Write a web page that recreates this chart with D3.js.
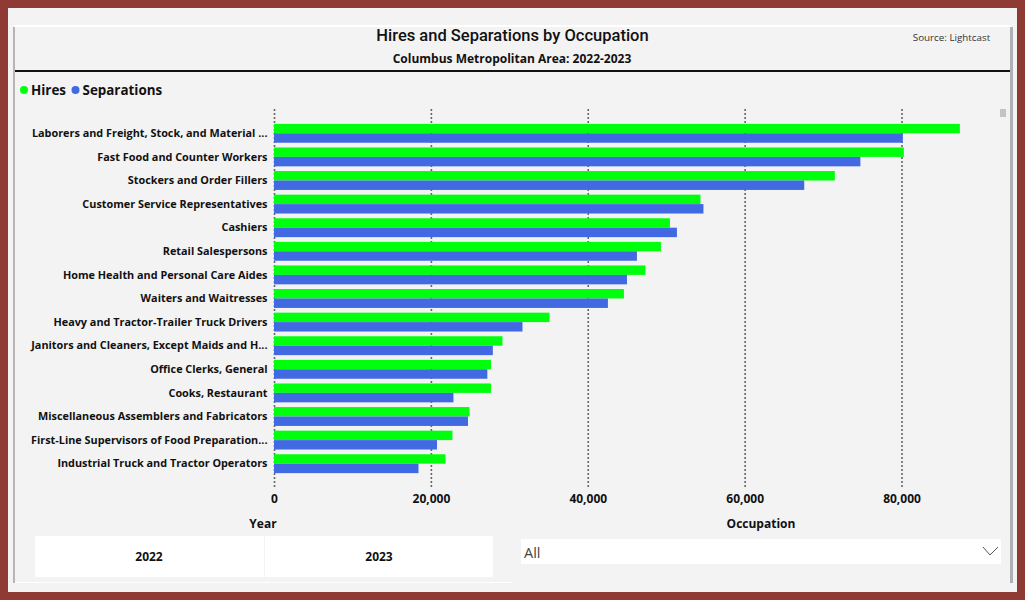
<!DOCTYPE html>
<html>
<head>
<meta charset="utf-8">
<script src="https://d3js.org/d3.v7.min.js"></script>
<style>
html, body { margin: 0; padding: 0; background: #8f3a32; overflow: hidden; }
svg { display: block; }
text { fill: #111; }
.cat { font: 700 10.85px "Open Sans", sans-serif; }
.tick-label { font: 700 12px "Open Sans", sans-serif; }
.din { font-family: Roboto, sans-serif; }
</style>
</head>
<body>
<u></u>
<script>
var occupations = [
  "Laborers and Freight, Stock, and Material ...",
  "Fast Food and Counter Workers",
  "Stockers and Order Fillers",
  "Customer Service Representatives",
  "Cashiers",
  "Retail Salespersons",
  "Home Health and Personal Care Aides",
  "Waiters and Waitresses",
  "Heavy and Tractor-Trailer Truck Drivers",
  "Janitors and Cleaners, Except Maids and H...",
  "Office Clerks, General",
  "Cooks, Restaurant",
  "Miscellaneous Assemblers and Fabricators",
  "First-Line Supervisors of Food Preparation...",
  "Industrial Truck and Tractor Operators"
];
var hires = [87440, 80300, 71500, 54370, 50480, 49330, 47350, 44610, 35120, 29130, 27660, 27660, 24920, 22750, 21860];
var separations = [80170, 74760, 67600, 54750, 51370, 46270, 45000, 42570, 31680, 27900, 27200, 22880, 24730, 20780, 18420];
var seriesNames = ["Hires", "Separations"];
var seriesColors = ["#00ff0c", "#4169e1"];
var xTicks = [0, 20000, 40000, 60000, 80000];
var years = ["2022", "2023"];

var width = 1025, height = 600;
var svg = d3.select("u").append("svg").attr("width", width).attr("height", height);

// page frame
svg.append("rect").attr("width", width).attr("height", height).attr("fill", "#8f3a32");
svg.append("rect").attr("x", 8).attr("y", 8).attr("width", 1009).attr("height", 584).attr("fill", "#f3f3f4");
svg.append("rect").attr("x", 14).attr("y", 25).attr("width", 997).attr("height", 2).attr("fill", "#fff");
svg.append("rect").attr("x", 13).attr("y", 27).attr("width", 2).attr("height", 556).attr("fill", "#b5b5b8");
svg.append("rect").attr("x", 1010).attr("y", 27).attr("width", 3).attr("height", 556).attr("fill", "#b0b0b4");
svg.append("rect").attr("x", 15).attr("y", 582).attr("width", 497).attr("height", 1).attr("fill", "#fff");
svg.append("rect").attr("x", 15).attr("y", 70).attr("width", 995).attr("height", 2).attr("fill", "#111");

// header
svg.append("text").attr("class", "din").attr("x", 512.5).attr("y", 41).attr("text-anchor", "middle")
  .style("font-size", "16.5px").style("font-weight", 500).text("Hires and Separations by Occupation");
svg.append("text").attr("class", "cat").attr("x", 512).attr("y", 63).attr("text-anchor", "middle")
  .style("font-size", "12px").text("Columbus Metropolitan Area: 2022-2023");
svg.append("text").attr("x", 951.5).attr("y", 41).attr("text-anchor", "middle")
  .style("font", "9.8px 'Open Sans', sans-serif").style("fill", "#333").text("Source: Lightcast");

// legend
var legendX = [24, 75.5];
seriesNames.forEach(function(name, i) {
  svg.append("circle").attr("cx", legendX[i]).attr("cy", 90).attr("r", 4).attr("fill", seriesColors[i]);
  svg.append("text").attr("x", legendX[i] + 7).attr("y", 94.5)
    .style("font", "700 13.4px 'Open Sans', sans-serif").text(name);
});

// scales
var x = d3.scaleLinear().domain([0, 80000]).range([274, 901.5]);
var y = d3.scaleBand().domain(occupations).range([121.5, 475.5]).paddingInner(0.2).paddingOuter(0.1);
var inner = d3.scaleBand().domain(seriesNames).range([0, y.bandwidth()]);

// x axis with dotted gridlines
var xAxis = svg.append("g").attr("transform", "translate(0,109)")
  .call(d3.axisBottom(x).tickValues(xTicks).tickFormat(d3.format(",")).tickSize(379).tickPadding(6));
xAxis.select(".domain").remove();
xAxis.selectAll("line").attr("stroke", "#666").attr("stroke-width", 1.6).attr("stroke-dasharray", "2,2");
xAxis.selectAll("text").attr("class", "tick-label").attr("fill", "#111");

// bars
var rows = svg.append("g").selectAll("g").data(occupations).enter().append("g")
  .attr("transform", function(d) { return "translate(0," + y(d) + ")"; });

rows.append("rect")
  .attr("x", x(0)).attr("y", inner("Hires")).attr("height", inner.bandwidth())
  .attr("width", function(d, i) { return x(hires[i]) - x(0); })
  .attr("fill", seriesColors[0]);
rows.append("rect")
  .attr("x", x(0)).attr("y", inner("Separations")).attr("height", inner.bandwidth())
  .attr("width", function(d, i) { return x(separations[i]) - x(0); })
  .attr("fill", seriesColors[1]);

rows.append("text").attr("class", "cat").attr("x", 267.5).attr("y", y.bandwidth() / 2).attr("dy", "0.35em")
  .attr("text-anchor", "end").text(function(d) { return d; });

// scrollbar nub
svg.append("rect").attr("x", 1000).attr("y", 109).attr("width", 6).attr("height", 8).attr("fill", "#c4c4c6");

// year slicer
svg.append("text").attr("class", "cat").attr("x", 263).attr("y", 528).attr("text-anchor", "middle")
  .style("font-size", "12px").text("Year");
svg.append("rect").attr("x", 35).attr("y", 536).attr("width", 458).attr("height", 41).attr("fill", "#fff");
svg.append("rect").attr("x", 264).attr("y", 536).attr("width", 1).attr("height", 41).attr("fill", "#f3f3f4");
years.forEach(function(yr, i) {
  svg.append("text").attr("class", "cat").attr("x", 149 + i * 230).attr("y", 561).attr("text-anchor", "middle")
    .style("font-size", "12px").text(yr);
});

// occupation dropdown
svg.append("text").attr("class", "cat").attr("x", 761).attr("y", 528).attr("text-anchor", "middle")
  .style("font-size", "12px").text("Occupation");
svg.append("rect").attr("x", 521).attr("y", 539).attr("width", 480).attr("height", 25).attr("fill", "#fff");
svg.append("text").attr("x", 524).attr("y", 558).style("font", "14.5px 'Open Sans', sans-serif").style("fill", "#444").text("All");
svg.append("path").attr("d", d3.line()([[983, 547], [990, 555], [998, 547]]))
  .attr("fill", "none").attr("stroke", "#555").attr("stroke-width", 1);
</script>
</body>
</html>
